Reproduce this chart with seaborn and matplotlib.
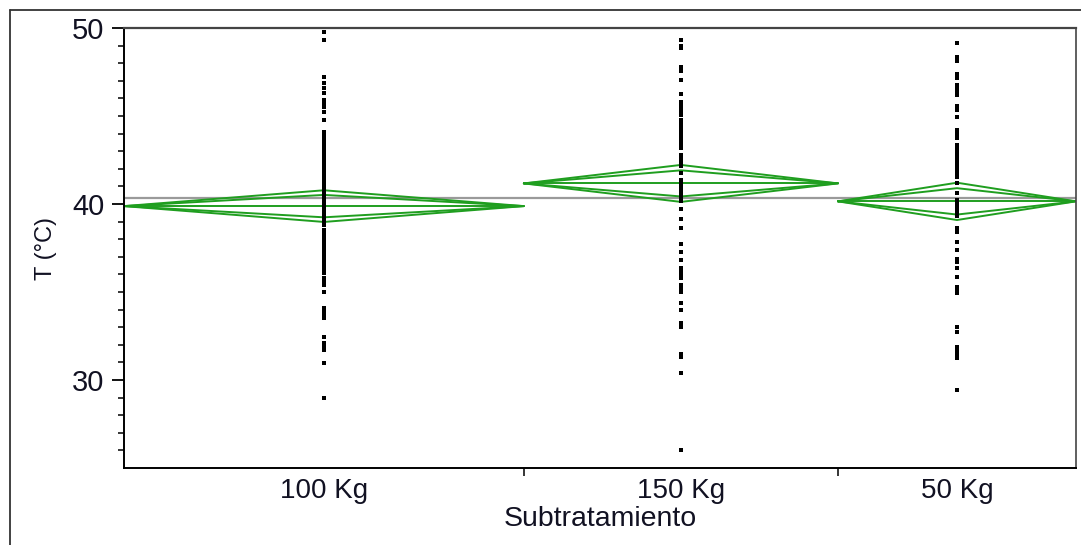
import numpy as np
import pandas as pd
import matplotlib
matplotlib.use("Agg")
import matplotlib.pyplot as plt
import seaborn as sns

# Groups, sample sizes and means-diamond statistics
groups = ["100 Kg", "150 Kg", "50 Kg"]
counts = [84, 66, 50]
group_means = [39.88, 41.17, 40.15]
ci_half = [0.90, 1.05, 1.06]
grand_mean = 40.35

# Observed temperatures per group
temp_100 = [49.75, 49.3, 47.2, 46.85, 46.6, 46.3, 45.9, 45.7, 45.5, 45.25, 44.75,
            44.1, 43.9, 43.7, 43.5, 43.3, 43.15, 42.9, 42.7, 42.55, 42.4, 42.25,
            42.1, 41.95, 41.8, 41.65, 41.5, 41.35, 41.2, 41.05, 40.9, 40.75, 40.6,
            40.45, 40.3, 40.15, 40.0, 39.85, 39.7, 39.55, 39.4, 39.25, 39.1, 38.95,
            38.8, 38.5, 38.35, 38.2, 38.05, 37.9, 37.75, 37.6, 37.45, 37.3, 37.15,
            37.0, 36.85, 36.7, 36.55, 36.4, 36.25, 36.1, 35.8, 35.6, 35.4, 35.0,
            34.1, 33.9, 33.7, 33.5, 32.45, 32.1, 31.9, 31.7, 30.95, 29.0]
temp_150 = [49.3, 49.0, 48.85, 47.8, 47.55, 47.05, 46.25, 45.8, 45.6, 45.4, 45.2,
            45.05, 44.75, 44.6, 44.45, 44.3, 44.15, 44.0, 43.85, 43.7, 43.55, 43.4,
            43.2, 42.8, 42.6, 42.4, 42.15, 41.75, 41.35, 41.2, 41.05, 40.9, 40.75,
            40.6, 40.45, 40.3, 40.15, 39.7, 39.15, 38.65, 37.7, 37.3, 36.8, 36.35,
            36.15, 35.95, 35.8, 35.4, 35.2, 35.0, 34.35, 33.95, 33.25, 33.0, 31.5,
            31.3, 30.4, 26.0]
temp_50 = [49.15, 48.35, 48.1, 47.4, 47.15, 46.75, 46.55, 46.35, 46.2, 45.55, 45.35,
           44.95, 44.2, 44.0, 43.75, 43.35, 43.2, 43.05, 42.9, 42.75, 42.6, 42.45,
           42.3, 42.15, 42.0, 41.85, 41.75, 41.55, 41.2, 40.65, 40.2, 40.05, 39.9,
           39.75, 39.6, 39.45, 39.3, 38.65, 38.4, 37.85, 37.4, 36.9, 36.7, 36.35,
           35.85, 35.3, 35.1, 34.95, 33.0, 32.75, 31.9, 31.7, 31.45, 31.25, 29.45]

sns.set_theme(style="white")
plt.rcParams["font.family"] = ["Liberation Sans", "DejaVu Sans"]

W, H, DPI = 1081, 545, 100
fig = plt.figure(figsize=(W / DPI, H / DPI), dpi=DPI)
fig.patch.set_facecolor("white")

# outer frame (left and top edges)
fig.add_artist(plt.Line2D([10 / W, 10 / W], [0, 1 - 10 / H], transform=fig.transFigure,
                          color="#333333", lw=1.3))
fig.add_artist(plt.Line2D([10 / W, 1], [1 - 10 / H, 1 - 10 / H], transform=fig.transFigure,
                          color="#333333", lw=1.3))

ax = fig.add_axes([124 / W, 1 - 468 / H, (1076 - 124) / W, (468 - 28) / H])

# group extents proportional to sample size
edges = np.concatenate([[0], np.cumsum(counts)])
centers = (edges[:-1] + edges[1:]) / 2

rows = []
for g, c, vals in zip(groups, centers, [temp_100, temp_150, temp_50]):
    for v in vals:
        rows.append({"Subtratamiento": g, "x": c, "T": v})
df = pd.DataFrame(rows)

green = "#1f9e1f"
ax.axhline(grand_mean, color="#9a9a9a", lw=1.6, zorder=1)
for i, (m, h) in enumerate(zip(group_means, ci_half)):
    x0, x1 = edges[i], edges[i + 1]
    xc = (x0 + x1) / 2
    for k in (1.0, 1 / np.sqrt(2)):
        ax.plot([x0, xc, x1, xc, x0], [m, m + k * h, m, m - k * h, m],
                color=green, lw=1.4, zorder=2)
    ax.plot([x0, x1], [m, m], color=green, lw=1.4, zorder=2)

sns.scatterplot(data=df, x="x", y="T", ax=ax, marker="s", s=9, color="black",
                linewidth=0, zorder=3, legend=False)

ax.set_xlim(edges[0], edges[-1])
ax.set_ylim(25, 50)
ax.set_yticks([30, 40, 50])
ax.set_yticks(np.arange(26, 50, 1), minor=True)
ax.set_xticks(edges[1:-1])
ax.set_xticklabels([])
ax.set_xticks(centers, minor=True)
ax.set_xticklabels(groups, minor=True)

ax.tick_params(axis="y", which="major", direction="out", length=9, width=1.3,
               color="black", labelsize=21, pad=5, left=True)
ax.tick_params(axis="y", which="minor", direction="out", length=4.5, width=1.1,
               color="black", left=True)
ax.tick_params(axis="x", which="major", direction="out", length=6, width=1.1,
               color="black", bottom=True)
ax.tick_params(axis="x", which="minor", length=0, labelsize=20, pad=7)

for side in ["left", "bottom"]:
    ax.spines[side].set_color("black")
    ax.spines[side].set_linewidth(1.4)
ax.spines["top"].set_color("#444444")
ax.spines["top"].set_linewidth(1.6)
ax.spines["right"].set_color("#444444")
ax.spines["right"].set_linewidth(1.2)

ax.set_xlabel("Subtratamiento", fontsize=20.5, labelpad=2, color="#111122")
ax.set_ylabel("T (°C)", fontsize=17, labelpad=11, color="#111122")
for lbl in ax.get_xticklabels(minor=True) + ax.get_yticklabels():
    lbl.set_color("#111122")

fig.savefig("out.png", dpi=DPI)
